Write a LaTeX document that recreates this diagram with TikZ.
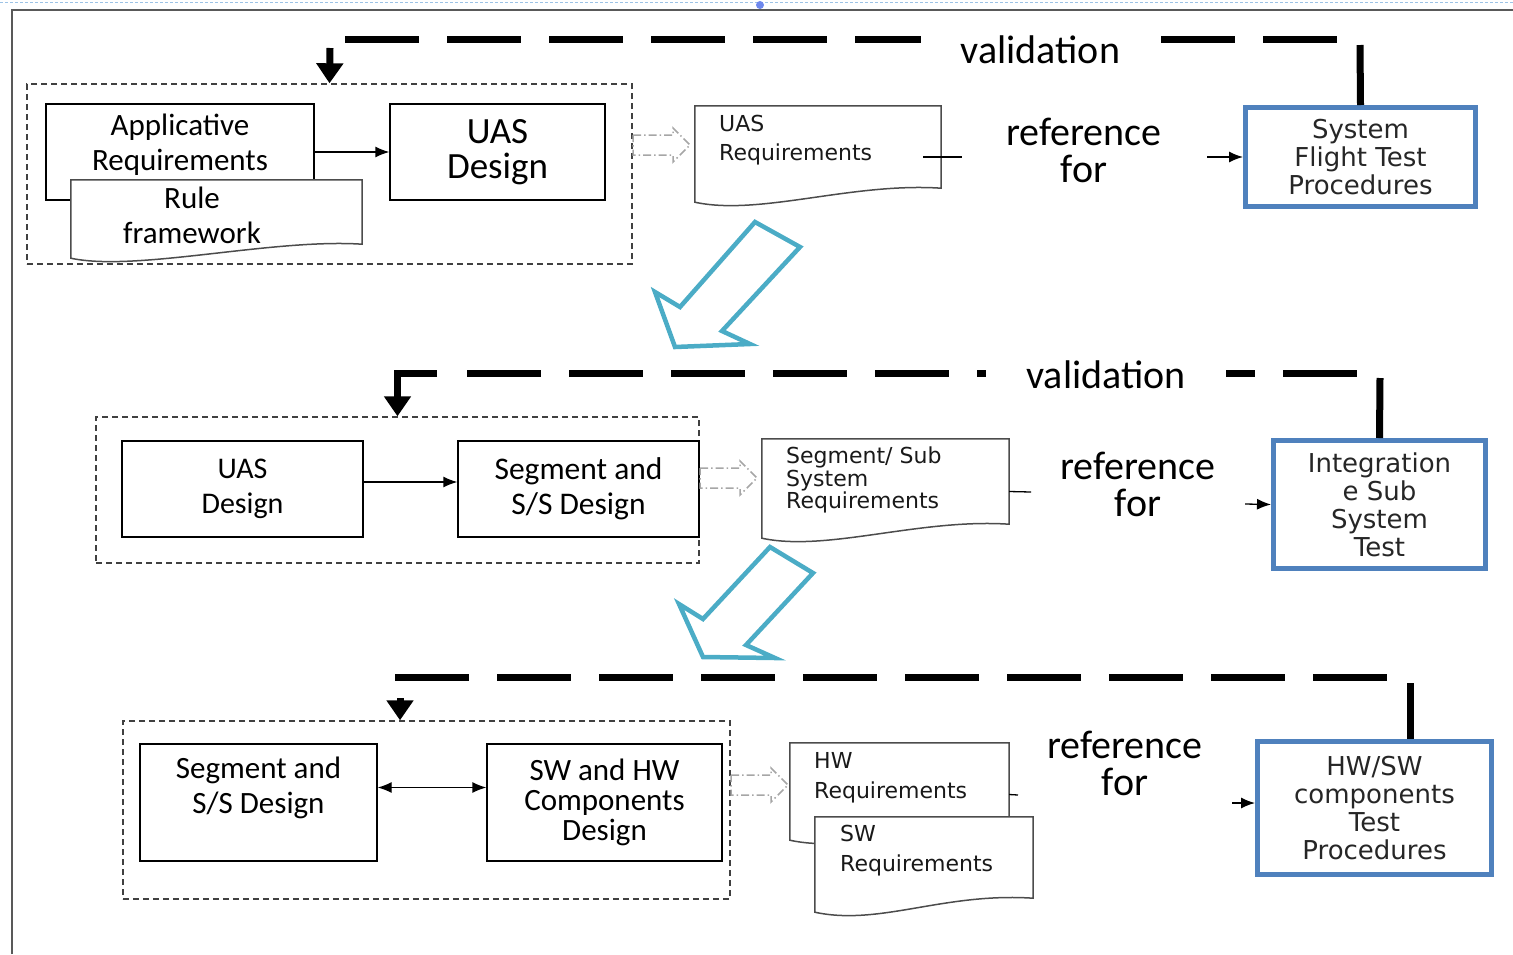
\documentclass[tikz,border=0pt]{standalone}
\usepackage{fontspec}
\setmainfont{Carlito}
\newfontfamily\docfont{DejaVu Sans}
\usetikzlibrary{arrows.meta,positioning}
\definecolor{testblue}{HTML}{4F81BD}
\definecolor{flowteal}{HTML}{4BACC6}
\definecolor{pagelink}{HTML}{9DC3E6}

% outline of a document shape with a wavy bottom
\newcommand{\docframe}[1]{%
  \draw[docline] (#1.north west) -- (#1.north east) -- ([yshift=20pt]#1.south east)
    .. controls ([xshift=-90pt,yshift=26pt]#1.south east) and ([xshift=65pt,yshift=-8pt]#1.south west)
    .. ([yshift=6pt]#1.south west) -- cycle;}

\begin{document}
\begin{tikzpicture}[
    x=1pt, y=-1pt,
    box/.style={draw, line width=1.3pt, align=center, inner sep=0pt},
    dashgroup/.style={draw=black!75, line width=1.4pt, dash pattern=on 6pt off 4pt, inner sep=0pt},
    docline/.style={draw=black!70, line width=1.5pt, fill=white},
    docarea/.style={inner sep=0pt},
    doctext/.style={anchor=north west, align=left, inner sep=0pt, text=black!90,
        font=\docfont\fontsize{22}{#1}\selectfont},
    testbox/.style={draw=testblue, line width=5pt, align=center, inner sep=0pt,
        font=\docfont\fontsize{26}{28}\selectfont, text=black!85},
    refword/.style={align=center, inner sep=0pt, font=\fontsize{40}{37}\selectfont},
    valword/.style={fill=white, inner ysep=2pt, inner xsep=40pt, font=\fontsize{40}{40}\selectfont},
    valbar/.style={line width=7pt},
    valdash/.style={line width=7pt, dash pattern=on 74pt off 28pt},
    valtip/.style={line width=7pt, -{Triangle[length=20pt,width=26pt]}},
    flow/.style={line width=1.3pt, -{Latex[length=14pt,width=11pt]}},
    twoway/.style={line width=1.3pt, {Latex[length=14pt,width=11pt]}-{Latex[length=14pt,width=11pt]}},
    ghost/.style={draw=black!35, line width=1.5pt, dash pattern=on 8pt off 3pt on 1.5pt off 3pt},
    bigarrow/.style={draw=flowteal, line width=4.5pt, line join=miter},
    ghost arrow/.pic={\draw[ghost] (0,-10) -- (40,-10) -- (40,-17) -- (57,0) -- (40,17) -- (40,10) -- (0,10) -- cycle;}
  ]
\useasboundingbox (0,0) rectangle (1513,954);

% page frame
\draw[pagelink, line width=1pt, dash pattern=on 3pt off 2pt] (0,2) -- (1513,2);
\fill[pagelink!70!blue] (760,5) circle (4);
\draw[black!65, line width=2pt] (12,954) -- (12,10) -- (1513,10);

% system level
\node[dashgroup, minimum width=605pt, minimum height=180pt] (grp1) at (329.5,174) {};
\node[box, minimum width=268pt, minimum height=96pt, font=\fontsize{31}{35}\selectfont] (app) at (180,152) {Applicative\\Requirements\\[-15pt]\mbox{}};
\node[docarea, minimum width=291pt, minimum height=84pt] (rule) at (216.5,222) {};
\docframe{rule}
\node[align=center, inner sep=0pt, font=\fontsize{31}{35}\selectfont] (rulet) at (192,215) {Rule\\framework};
\node[box, minimum width=215pt, minimum height=96pt, font=\fontsize{37}{35}\selectfont] (uas1) at (497.5,152) {UAS\\Design};
\draw[flow] (app.east) -- (uas1.west);
\pic at (633,145) {ghost arrow};
\node[docarea, minimum width=246pt, minimum height=102pt] (req1) at (818,157) {};
\docframe{req1}
\node[doctext=29] (req1t) at (719,115) {UAS\\Requirements};
\coordinate (t1) at (962,157);
\draw[line width=1.3pt] ([xshift=-18pt]req1.east) -- (t1);
\node[refword] (ref1) at (1084,150) {reference\\for};
\node[testbox, minimum width=230pt, minimum height=99pt] (sft) at (1360.5,157) {System\\Flight Test\\Procedures};
\coordinate (r1) at (1207,157);
\draw[flow] (r1) -- (sft.west);
% validation loop
\coordinate (v1) at (1360,45);
\coordinate (h1a) at (1338,39);
\coordinate (h1b) at (345,39);
\coordinate (a1) at (330,48);
\draw[valbar] (sft.north) -- (v1);
\draw[valdash] (h1b) -- (h1a);
\node[valword] (val1) at (1040.5,50) {validation};
\draw[valtip] (a1) -- (grp1.north);

\draw[bigarrow] (755,222) -- (800,247) -- (722,331) -- (750,344) -- (675,347) -- (655,292) -- (680,307) -- cycle;

% segment level
\node[dashgroup, minimum width=603pt, minimum height=146pt] (grp2) at (397.5,490) {};
\node[box, minimum width=241pt, minimum height=96pt, font=\fontsize{30}{35}\selectfont] (uas2) at (242.5,489) {UAS\\Design};
\node[box, minimum width=241pt, minimum height=96pt, font=\fontsize{31.5}{35}\selectfont] (seg2) at (578.5,489) {Segment and\\S/S Design};
\draw[flow] ([yshift=7pt]uas2.east) -- ([yshift=7pt]seg2.west);
\pic at (700,478) {ghost arrow};
\node[docarea, minimum width=247pt, minimum height=105pt] (req2) at (885.5,491.5) {};
\docframe{req2}
\node[doctext=22.5] (req2t) at (786,447) {Segment/ Sub\\System\\Requirements};
\coordinate (t2) at (1031,492);
\draw[line width=1.3pt] (req2.east) -- (t2);
\node[refword] (ref2) at (1138,484) {reference\\for};
\node[testbox, minimum width=212pt, minimum height=128pt] (ist) at (1379.5,504.5) {Integration\\e Sub\\System\\Test};
\coordinate (r2) at (1245,504);
\draw[flow] (r2) -- (ist.west);
% validation loop
\coordinate (v2) at (1380,378);
\coordinate (h2a) at (1357,373);
\coordinate (h2b) at (467,373);
\coordinate (c2) at (437,373);
\draw[valbar] (ist.north) -- (v2);
\draw[valdash] (h2b) -- (h2a);
\node[valword] (val2) at (1106,375) {validation};
\draw[valtip] (c2) -| (grp2.north);

\draw[bigarrow] (770,547) -- (813,573) -- (746,645) -- (775,658) -- (703,657) -- (679,604) -- (703,619) -- cycle;

% component level
\node[dashgroup, minimum width=607pt, minimum height=178pt] (grp3) at (426.5,810) {};
\node[box, minimum width=237pt, minimum height=117pt, font=\fontsize{31}{35}\selectfont] (seg3) at (258.5,802.5) {Segment and\\S/S Design\\\mbox{}};
\node[box, minimum width=235pt, minimum height=117pt, font=\fontsize{31}{30}\selectfont] (swhw) at (604.5,802.5) {SW and HW\\Components\\Design};
\draw[twoway] ([yshift=15pt]seg3.east) -- ([yshift=15pt]swhw.west);
\pic at (731,785) {ghost arrow};
\node[docarea, minimum width=219pt, minimum height=103pt] (hwreq) at (899.5,794.5) {};
\docframe{hwreq}
\node[doctext=30] (hwreqt) at (814,752) {HW\\Requirements};
\coordinate (t3) at (1018,795);
\draw[line width=1.3pt] (hwreq.east) -- (t3);
\node[docarea, minimum width=218pt, minimum height=101pt] (swreq) at (924,867.5) {};
\docframe{swreq}
\node[doctext=30] (swreqt) at (840,825) {SW\\Requirements};
\node[refword] (ref3) at (1125,763) {reference\\for};
\node[testbox, minimum width=234pt, minimum height=133pt] (hwt) at (1374.5,808) {HW/SW\\components\\Test\\Procedures};
\coordinate (r3) at (1232,803);
\draw[flow] (r3) -- (r3 -| hwt.west);
% validation loop
\coordinate (v3) at (1410,683);
\coordinate (h3a) at (1387,677);
\coordinate (h3b) at (395,677);
\coordinate (a3) at (400,698);
\draw[valbar] (v3) -- (v3 |- hwt.north);
\draw[valdash] (h3b) -- (h3a);
\draw[valtip] (a3) -- (a3 |- grp3.north);
\end{tikzpicture}
\end{document}
